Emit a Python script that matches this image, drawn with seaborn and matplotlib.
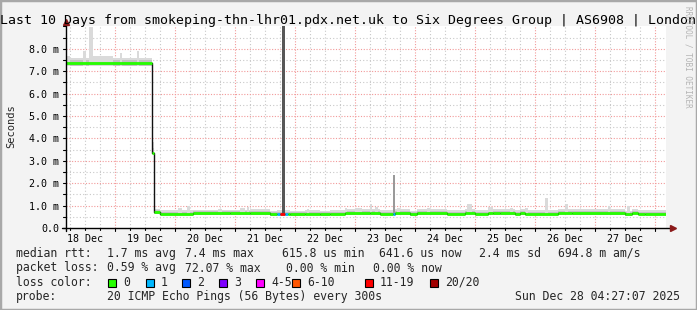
import numpy as np
import matplotlib
matplotlib.use("Agg")
import matplotlib.pyplot as plt
import seaborn as sns
from matplotlib.patches import Rectangle
from matplotlib.lines import Line2D

# ---------------- data (hours since 18 Dec 00:00, values in ms) ----------------
t_start = 4.45
t_end = 244.45

seg_start_h = [4.45, 38.9, 39.7, 42.0, 55.2, 70.0, 78.0, 86.0, 88.8, 90.0, 92.0, 93.2,
               94.0, 100.0, 106.0, 110.0, 116.0, 126.0, 130.0, 135.2, 136.0, 142.0,
               144.8, 156.8, 164.0, 168.0, 173.2, 175.2, 178.0, 184.0, 186.0, 188.0,
               201.2, 206.8, 228.0, 230.8, 233.2, 236.0]
median_ms = [7.37, 3.36, 0.71, 0.64, 0.65, 0.66, 0.67, 0.61, 0.63, 0.63, 0.63, 0.63,
             0.61, 0.64, 0.61, 0.64, 0.67, 0.66, 0.62, 0.63, 0.67, 0.61,
             0.66, 0.64, 0.68, 0.64, 0.69, 0.66, 0.67, 0.62, 0.66, 0.64,
             0.69, 0.66, 0.61, 0.69, 0.64, 0.62]
loss_cat = [0, 0, 0, 0, 0, 0, 0, 0, 1, 6, 1, 0,
            0, 0, 0, 0, 0, 0, 0, 1, 0, 0,
            0, 0, 0, 0, 0, 0, 0, 0, 0, 0,
            0, 0, 0, 0, 0, 0]
smoke_lo_ms = [7.24, 3.30, 0.62, 0.57, 0.58, 0.59, 0.60, 0.55, 0.57, 0.57, 0.57, 0.57,
               0.55, 0.58, 0.55, 0.58, 0.60, 0.59, 0.56, 0.57, 0.60, 0.55,
               0.59, 0.58, 0.61, 0.58, 0.62, 0.59, 0.60, 0.56, 0.59, 0.58,
               0.62, 0.59, 0.55, 0.62, 0.58, 0.56]
smoke_mid_ms = [7.48, 3.55, 0.80, 0.73, 0.74, 0.75, 0.76, 0.70, 0.72, 0.72, 0.72, 0.72,
                0.70, 0.73, 0.70, 0.73, 0.76, 0.75, 0.71, 0.72, 0.76, 0.70,
                0.75, 0.73, 0.77, 0.73, 0.78, 0.75, 0.76, 0.71, 0.75, 0.73,
                0.78, 0.75, 0.70, 0.78, 0.73, 0.71]
smoke_hi_ms = [7.60, 3.85, 0.86, 0.80, 0.81, 0.82, 0.84, 0.78, 0.80, 0.80, 0.80, 0.80,
               0.78, 0.81, 0.78, 0.81, 0.84, 0.83, 0.79, 0.80, 0.84, 0.78,
               0.83, 0.81, 0.85, 0.81, 0.86, 0.83, 0.84, 0.79, 0.83, 0.81,
               0.86, 0.83, 0.78, 0.86, 0.81, 0.79]

spike_start_h = [4.8, 11.2, 13.6, 15.2, 26.0, 32.8, 49.2, 52.8, 65.2, 74.0, 76.8,
                 100.8, 116.0, 120.0, 126.0, 128.0, 136.8, 148.8, 164.8, 173.2,
                 182.0, 188.0, 196.0, 204.0, 221.2, 228.8]
spike_end_h = [6.0, 12.4, 15.2, 23.2, 26.8, 33.6, 50.8, 54.0, 66.8, 76.0, 77.6,
               101.6, 116.8, 122.8, 126.8, 129.2, 138.0, 150.0, 166.8, 175.2,
               183.2, 189.2, 197.2, 205.2, 222.0, 230.0]
spike_top_ms = [7.66, 7.90, 8.97, 7.66, 7.83, 7.89, 0.90, 0.97, 0.86, 0.90, 0.93,
                0.86, 0.88, 0.90, 1.06, 0.95, 0.90, 0.90, 1.06, 0.93,
                0.90, 0.90, 1.34, 1.06, 0.97, 1.00]

dark_spike_h = [91.0, 92.0]
dark_spike_top_ms = 9.0
mid_spike_h = [135.4, 136.0]
mid_spike_top_ms = 2.37

day_labels = ["18 Dec", "19 Dec", "20 Dec", "21 Dec", "22 Dec",
              "23 Dec", "24 Dec", "25 Dec", "26 Dec", "27 Dec"]
y_ticks_ms = [0, 1, 2, 3, 4, 5, 6, 7, 8]
y_tick_labels = ["0.0", "1.0 m", "2.0 m", "3.0 m", "4.0 m", "5.0 m", "6.0 m", "7.0 m", "8.0 m"]

loss_labels = ["0", "1", "2", "3", "4-5", "6-10", "11-19", "20/20"]
loss_colors = ["#26ff00", "#00b8ff", "#0059ff", "#7e00ff", "#ff00ff", "#ff5500", "#ff0000", "#a10000"]

title = "Last 10 Days from smokeping-thn-lhr01.pdx.net.uk to Six Degrees Group | AS6908 | London"

# ---------------- figure ----------------
sns.set_theme(style="white")
plt.rcParams["font.family"] = ["DejaVu Sans Mono", "DejaVu Sans"]

W, H = 697, 310
BG = "#f3f3f3"
fig = plt.figure(figsize=(W / 100, H / 100), dpi=100, facecolor=BG)


def fx(x):
    return x / W


def fy(y):
    return 1 - y / H


# outer frame
fig.patches.append(Rectangle((0, 0), 1, 1, transform=fig.transFigure, fill=False,
                             edgecolor="#a8a8a8", lw=2.5, zorder=0))

ax_l, ax_r, ax_b, ax_t = 66, 666, 228, 26.4
ax = fig.add_axes([fx(ax_l), fy(ax_b), (ax_r - ax_l) / W, (ax_b - ax_t) / H])
ax.set_facecolor("white")
ymax = 9.0
ax.set_xlim(t_start, t_end)
ax.set_ylim(0, ymax)
for s in ax.spines.values():
    s.set_visible(False)

# grid
for h in np.arange(6, 246, 6):
    if h % 24 != 0:
        ax.axvline(h, color="#c8c8c8", lw=0.8, ls=(0, (1, 2)), zorder=1)
for v in np.arange(0.5, 9.0, 1.0):
    ax.axhline(v, color="#c8c8c8", lw=0.8, ls=(0, (1, 2)), zorder=1)
for h in np.arange(24, 246, 24):
    ax.axvline(h, color="#f29a9a", lw=0.8, ls=(0, (1, 1.5)), zorder=1)
for v in range(1, 9):
    ax.axhline(v, color="#f29a9a", lw=0.8, ls=(0, (1, 1.5)), zorder=1)

# smoke
edges = np.array(seg_start_h + [t_end])
lo = np.array(smoke_lo_ms + [smoke_lo_ms[-1]])
mid = np.array(smoke_mid_ms + [smoke_mid_ms[-1]])
hi = np.array(smoke_hi_ms + [smoke_hi_ms[-1]])
ax.fill_between(edges, lo, hi, step="post", color="#dadada", lw=0, zorder=2)
ax.fill_between(edges, lo, mid, step="post", color="#c2c2c2", lw=0, zorder=2)


def base_at(h):
    i = np.searchsorted(edges, h, side="right") - 1
    return smoke_lo_ms[max(0, min(i, len(smoke_lo_ms) - 1))]


for s0, s1, top in zip(spike_start_h, spike_end_h, spike_top_ms):
    b = base_at((s0 + s1) / 2)
    ax.bar((s0 + s1) / 2, top - b, width=s1 - s0, bottom=b, color="#dadada", lw=0, zorder=2)

b = base_at(mid_spike_h[0])
ax.bar(np.mean(mid_spike_h), mid_spike_top_ms - b, width=mid_spike_h[1] - mid_spike_h[0],
       bottom=b, color="#9a9a9a", lw=0, zorder=3)
b = base_at(dark_spike_h[0])
ax.bar(np.mean(dark_spike_h), dark_spike_top_ms - b, width=dark_spike_h[1] - dark_spike_h[0],
       bottom=b, color="#575757", lw=0, zorder=3)

# median: thin black step line + colored loss segments
med_x = seg_start_h + [t_end]
med_y = median_ms + [median_ms[-1]]
sns.lineplot(x=med_x, y=med_y, drawstyle="steps-post", color="#111111", lw=1.0,
             ax=ax, zorder=4, estimator=None, sort=False)
ax.hlines(median_ms, seg_start_h, edges[1:], colors=[loss_colors[c] for c in loss_cat],
          lw=2.0, zorder=5, capstyle="butt")

# ticks
ax.set_xticks([12 + 24 * k for k in range(10)])
ax.set_xticklabels(day_labels)
ax.set_yticks(y_ticks_ms)
ax.set_yticklabels(y_tick_labels)
ax.tick_params(axis="both", length=0, labelsize=7.2, colors="#000000", pad=5)
ax.tick_params(axis="x", pad=4.5)
ax.set_ylabel("")
fig.text(fx(11), fy(126), "Seconds", rotation=90, ha="center", va="center", fontsize=7.5)

# axes lines and arrows (figure coords)
fig.add_artist(Line2D([fx(62), fx(670)], [fy(228), fy(228)], color="#000000", lw=1.0))
fig.add_artist(Line2D([fx(66), fx(66)], [fy(231), fy(24)], color="#000000", lw=1.0))
fig.add_artist(Line2D([fx(673)], [fy(228)], marker=">", color="#8b1a1a", ms=4.5, lw=0))
fig.add_artist(Line2D([fx(66)], [fy(22)], marker="^", color="#8b1a1a", ms=4.5, lw=0))
# small tick marks
for v in np.arange(0, 9.01, 0.5):
    yy = ax_b - v / ymax * (ax_b - ax_t)
    fig.add_artist(Line2D([fx(63), fx(66)], [fy(yy), fy(yy)], color="#000000", lw=0.8))
for h in np.arange(6, 246, 6):
    if h < t_start or h > t_end:
        continue
    xx = ax_l + (h - t_start) / (t_end - t_start) * (ax_r - ax_l)
    L = 3 if h % 24 == 0 else 2
    fig.add_artist(Line2D([fx(xx), fx(xx)], [fy(228), fy(228 + L)], color="#000000", lw=0.8))

# title
fig.text(0.5, fy(24), title, ha="center", va="baseline", fontsize=9.5, color="#000000")
# watermark
fig.text(fx(688), fy(6), "RRDTOOL / TOBI OETIKER", rotation=-90, ha="center", va="top",
         fontsize=5.5, color="#b4b4b4")

# legend text
fs = 8.3
fig.text(fx(16), fy(257), "median rtt:", fontsize=fs, va="baseline")
for x, s in zip([107, 185, 282, 379, 479, 558],
                ["1.7 ms avg", "7.4 ms max", "615.8 us min", "641.6 us now", "2.4 ms sd", "694.8 m am/s"]):
    fig.text(fx(x), fy(257), s, fontsize=fs, va="baseline")
fig.text(fx(16), fy(271.5), "packet loss:", fontsize=fs, va="baseline")
for x, s in zip([107, 185, 286, 373], ["0.59 % avg", "72.07 % max", "0.00 % min", "0.00 % now"]):
    fig.text(fx(x), fy(271.5), s, fontsize=fs, va="baseline")
fig.text(fx(16), fy(285.5), "loss color:", fontsize=fs, va="baseline")
sq_x = [108, 146, 182, 219, 256, 292, 365, 430]
for x, lab, col in zip(sq_x, loss_labels, loss_colors):
    fig.patches.append(Rectangle((fx(x), fy(286.5)), 8 / W, 8 / H, transform=fig.transFigure,
                                 facecolor=col, edgecolor="#000000", lw=0.8))
    fig.text(fx(x + 15), fy(285.5), lab, fontsize=fs, va="baseline")
fig.text(fx(16), fy(300), "probe:", fontsize=fs, va="baseline")
fig.text(fx(107), fy(300), "20 ICMP Echo Pings (56 Bytes) every 300s", fontsize=fs, va="baseline")
fig.text(fx(680), fy(300), "Sun Dec 28 04:27:07 2025", fontsize=fs, va="baseline", ha="right")

fig.savefig("out.png", dpi=100, facecolor=BG)
